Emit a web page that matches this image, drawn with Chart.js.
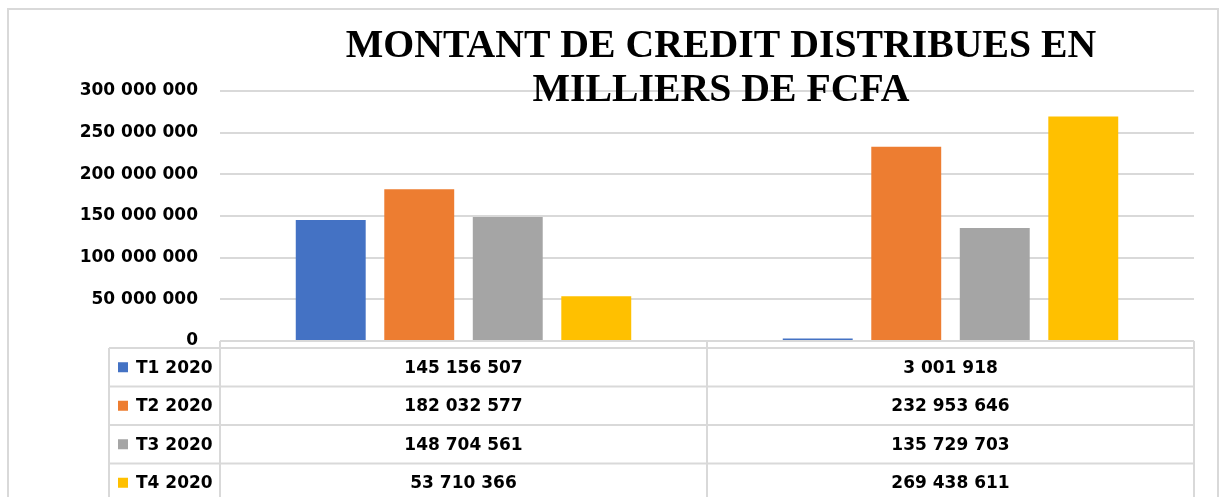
<!DOCTYPE html>
<html>
<head>
<meta charset="utf-8">
<script src="https://cdn.jsdelivr.net/npm/chart.js@4.4.0/dist/chart.umd.min.js"></script>
<style>
  html, body { margin: 0; padding: 0; background: #fff; }
  #wrap { width: 1220px; height: 497px; }
</style>
</head>
<body>
<div id="wrap"><canvas id="creditChart" width="1220" height="497"></canvas></div>
<script>
// data
const categories = ['', ''];
const seriesLabels = ['T1 2020', 'T2 2020', 'T3 2020', 'T4 2020'];
const t1Values = [145156507, 3001918];
const t2Values = [182032577, 232953646];
const t3Values = [148704561, 135729703];
const t4Values = [53710366, 269438611];
const seriesColors = ['#4472C4', '#ED7D31', '#A5A5A5', '#FFC000'];
const titleLines = ['MONTANT DE CREDIT DISTRIBUES EN', 'MILLIERS DE FCFA'];
const yMin = 0, yMax = 300000000, yStep = 50000000;

const seriesValues = [t1Values, t2Values, t3Values, t4Values];

function fmt(n) {
    return String(n).replace(/\B(?=(\d{3})+(?!\d))/g, ' ');
}

const lineColor = '#d9d9d9';
const textFont = 'bold 17px "DejaVu Sans"';

const framePlugin = {
    id: 'frame',
    beforeDraw(chart) {
        const ctx = chart.ctx;
        ctx.save();
        ctx.fillStyle = '#fff';
        ctx.fillRect(0, 0, chart.width, chart.height);
        ctx.strokeStyle = lineColor;
        ctx.lineWidth = 2;
        ctx.strokeRect(8, 9, 1210, chart.height + 20);
        ctx.restore();
    }
};

const titlePlugin = {
    id: 'bigTitle',
    afterDraw(chart) {
        const ctx = chart.ctx;
        const cx = (chart.chartArea.left + chart.chartArea.right) / 2 + 14;
        ctx.save();
        ctx.font = 'bold 41px "Liberation Serif"';
        ctx.fillStyle = '#000';
        ctx.textAlign = 'center';
        ctx.textBaseline = 'alphabetic';
        const baselines = [57, 101];
        titleLines.forEach((line, i) => {
            ctx.save();
            ctx.translate(cx, baselines[i]);
            ctx.scale(0.97, 1);
            ctx.fillText(line, 0, 0);
            ctx.restore();
        });
        ctx.restore();
    }
};

const tablePlugin = {
    id: 'dataTable',
    afterDraw(chart) {
        const ctx = chart.ctx;
        const area = chart.chartArea;
        const xs = chart.scales.x;
        const headerTop = area.bottom;
        const headerBottom = headerTop + 7;
        const rowH = 38.5;
        const legendLeft = 109;
        const colW = (area.right - area.left) / categories.length;

        ctx.save();
        ctx.strokeStyle = lineColor;
        ctx.lineWidth = 2;
        ctx.beginPath();
        ctx.moveTo(area.left, headerTop);
        ctx.lineTo(area.right, headerTop);
        for (let r = 0; r <= seriesLabels.length; r++) {
            const y = headerBottom + r * rowH;
            ctx.moveTo(legendLeft, y);
            ctx.lineTo(area.right, y);
        }
        ctx.moveTo(legendLeft, headerBottom);
        ctx.lineTo(legendLeft, chart.height);
        for (let c = 0; c <= categories.length; c++) {
            const x = area.left + c * colW;
            ctx.moveTo(x, headerTop);
            ctx.lineTo(x, chart.height);
        }
        ctx.stroke();

        ctx.font = textFont;
        ctx.fillStyle = '#000';
        ctx.textBaseline = 'middle';
        seriesLabels.forEach((label, r) => {
            const cy = headerBottom + r * rowH + rowH / 2;
            ctx.fillStyle = seriesColors[r];
            ctx.fillRect(118, cy - 5, 10, 10);
            ctx.fillStyle = '#000';
            ctx.textAlign = 'left';
            ctx.fillText(label, 136, cy + 1);
            ctx.textAlign = 'center';
            categories.forEach((cat, c) => {
                ctx.fillText(fmt(seriesValues[r][c]), xs.getPixelForValue(c), cy + 1);
            });
        });
        ctx.restore();
    }
};

const ctx = document.getElementById('creditChart').getContext('2d');
new Chart(ctx, {
    type: 'bar',
    data: {
        labels: categories,
        datasets: seriesLabels.map((label, i) => ({
            label: label,
            data: seriesValues[i],
            backgroundColor: seriesColors[i],
            categoryPercentage: 0.727,
            barPercentage: 0.79
        }))
    },
    options: {
        responsive: false,
        animation: false,
        layout: { padding: { left: 0, right: 26, top: 91, bottom: 156 } },
        plugins: {
            legend: { display: false },
            title: { display: false },
            tooltip: { enabled: false }
        },
        scales: {
            x: { display: false },
            y: {
                min: yMin,
                max: yMax,
                border: { display: false },
                grid: { color: lineColor, lineWidth: 2, drawTicks: false },
                afterFit(scale) { scale.width = 220; },
                ticks: {
                    stepSize: yStep,
                    padding: 22,
                    color: '#000',
                    font: { family: 'DejaVu Sans', size: 17, weight: 'bold' },
                    callback: v => fmt(v)
                }
            }
        }
    },
    plugins: [framePlugin, titlePlugin, tablePlugin]
});
</script>
</body>
</html>
